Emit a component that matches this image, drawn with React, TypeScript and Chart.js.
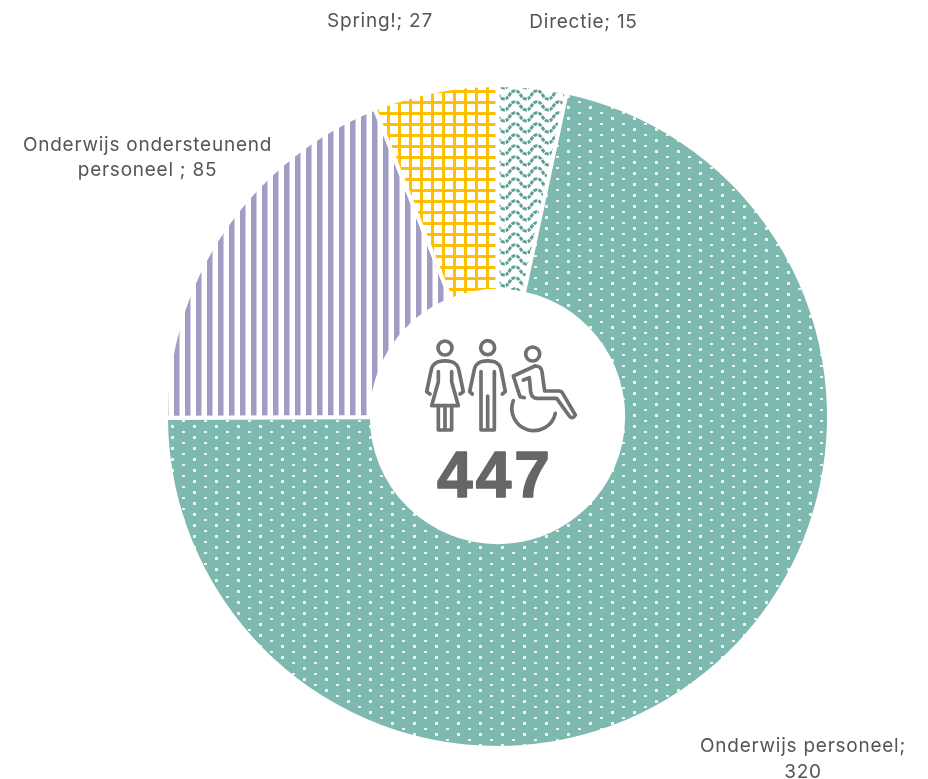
import React, { useEffect, useRef } from "react";
import { Chart, registerables } from "chart.js";

Chart.register(...registerables);

const categories = ["Directie", "Onderwijs personeel", "Onderwijs ondersteunend personeel ", "Spring!"];
const values = [15, 320, 85, 27];
const total = "447";
const labelLines = [
  ["Directie; 15"],
  ["Onderwijs personeel;", "320"],
  ["Onderwijs ondersteunend", "personeel ; 85"],
  ["Spring!; 27"],
];
const labelAnchors = [
  [583.5, 22.5],
  [803, 746.5],
  [147.5, 145],
  [380, 21.5],
];
const TEAL = "#7db9af";
const WAVE = "#5f9f93";
const PURPLE = "#a09cc4";
const YELLOW = "#ffc000";
const TEXT = "#555555";
const ICON = "#707070";

function tile(w: number, h: number, draw: (c: CanvasRenderingContext2D) => void) {
  const cv = document.createElement("canvas");
  cv.width = w;
  cv.height = h;
  const c = cv.getContext("2d")!;
  draw(c);
  return c.createPattern(cv, "repeat")!;
}

function makePatterns() {
  const dots = tile(22, 11, (c) => {
    c.fillStyle = TEAL;
    c.fillRect(0, 0, 22, 11);
    c.fillStyle = "rgba(255,255,255,0.85)";
    c.fillRect(6, 2, 3, 2);
    c.fillRect(17, 7, 3, 3);
  });
  const stripes = tile(11, 11, (c) => {
    c.fillStyle = "#fff";
    c.fillRect(0, 0, 11, 11);
    c.fillStyle = PURPLE;
    c.fillRect(9, 0, 2, 11);
    c.fillRect(0, 0, 3.5, 11);
  });
  const grid = tile(11, 11, (c) => {
    c.fillStyle = "#fff";
    c.fillRect(0, 0, 11, 11);
    c.fillStyle = YELLOW;
    c.fillRect(2, 0, 3, 11);
    c.fillRect(0, 2, 11, 3);
  });
  const waves = tile(22, 11, (c) => {
    c.fillStyle = "#fff";
    c.fillRect(0, 0, 22, 11);
    c.strokeStyle = WAVE;
    c.lineWidth = 3;
    c.setLineDash([3.9, 1]);
    for (const dy of [-11, 0, 11]) {
      c.beginPath();
      c.moveTo(-24, 11 + dy);
      for (let x = -24; x < 40; x += 22) {
        c.bezierCurveTo(x + 5.5, 11 + dy, x + 5.5, 2.7 + dy, x + 11, 2.7 + dy);
        c.bezierCurveTo(x + 16.5, 2.7 + dy, x + 16.5, 11 + dy, x + 22, 11 + dy);
      }
      c.stroke();
    }
  });
  return [waves, dots, stripes, grid];
}

const textPlugin = {
  id: "texts",
  afterDraw(chart: Chart) {
    const c = chart.ctx;
    c.save();
    c.fillStyle = TEXT;
    c.textAlign = "center";
    c.textBaseline = "middle";
    c.font = '19px "Inter"';
    (c as any).letterSpacing = "0.75px";
    labelLines.forEach((lines, i) => {
      lines.forEach((line, j) => {
        c.fillText(line, labelAnchors[i][0], labelAnchors[i][1] + j * 25.5);
      });
    });
    c.fillStyle = "#666666";
    c.strokeStyle = "#666666";
    c.lineWidth = 1.5;
    c.lineJoin = "round";
    (c as any).letterSpacing = "3px";
    c.font = 'bold 64px "Liberation Sans"';
    c.fillText(total, 495, 479);
    c.strokeText(total, 495, 479);
    c.restore();
  },
};

export default function App() {
  const ref = useRef<HTMLCanvasElement>(null);
  useEffect(() => {
    const chart = new Chart(ref.current!, {
      type: "doughnut",
      data: {
        labels: categories,
        datasets: [
          {
            data: values,
            backgroundColor: makePatterns() as any,
            borderColor: "#ffffff",
            borderWidth: 4,
          },
        ],
      },
      options: {
        animation: false,
        responsive: false,
        cutout: "37.9%",
        layout: { padding: { left: 164, right: 97, top: 83, bottom: 29 } },
        plugins: { legend: { display: false }, tooltip: { enabled: false } },
      },
      plugins: [textPlugin],
    });
    return () => chart.destroy();
  }, []);
  const s = { fill: "none", stroke: ICON, strokeWidth: 11, strokeLinecap: "round", strokeLinejoin: "round" } as const;
  return (
    <div style={{ position: "absolute", left: 0, top: 0, width: 928, height: 779, background: "#fff" }}>
      <canvas ref={ref} width={928} height={779} style={{ display: "block" }} />
      <svg
        viewBox="0 0 540 540"
        width={180}
        height={180}
        style={{ position: "absolute", left: 410, top: 330 }}
      >
        <g {...s}>
          <circle cx={105} cy={54} r={21} />
          <path d="M60 192 L50 185 L64 118 Q68 102 85 95 Q105 90 125 95 Q142 102 146 118 L160 185 L150 192" />
          <path d="M85 125 V155 L65 227 H145 L125 155 V125" />
          <path d="M85 227 V300 H125 V227 M105 227 V300" />
          <circle cx={233} cy={53} r={21} />
          <path d="M187 192 L179 185 L193 118 Q197 102 213 95 Q233 90 253 95 Q269 102 273 118 L286 185 L277 192" />
          <path d="M213 125 V300 H253 V125 M233 198 V300" />
          <circle cx={368} cy={72} r={21} />
          <path d="M375 108 L310 138 L330 200 L343 203" />
          <path d="M340 150 L358 143 L362 185 Q365 205 382 205 H440 L478 258 Q488 270 496 255 L458 190 Q455 183 445 183 H404 L396 125 Q394 108 375 108" />
          <path d="M310 212 A66 66 0 1 0 436 250" />
        </g>
      </svg>
    </div>
  );
}
